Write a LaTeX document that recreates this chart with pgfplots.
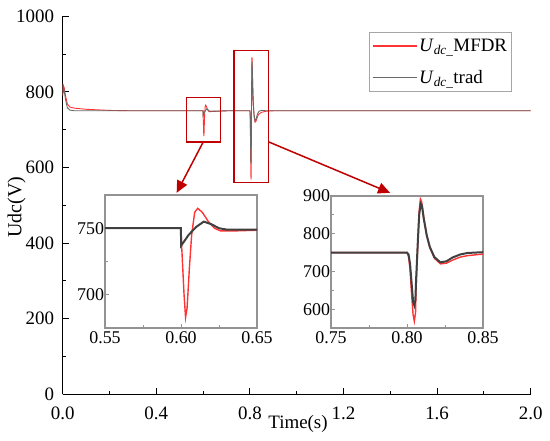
\documentclass[border=0pt]{standalone}
\usepackage{fontspec}
\setmainfont{Liberation Serif}
\usepackage{pgfplots}
\usepackage{pgfplotstable}
\pgfplotsset{compat=1.18}
\usetikzlibrary{arrows.meta}
\definecolor{mred}{HTML}{FF3333}
\definecolor{tgray}{HTML}{505050}
\definecolor{mgray}{HTML}{686868}
\definecolor{dred}{HTML}{C00000}

\pgfplotstableread{
t v
0 790
0.002 818
0.006 812
0.012 790
0.02 768
0.03 760
0.05 757
0.1 754
0.2 751
0.3 750
0.55 750
0.5999 750
0.6005 735
0.602 700
0.603 683
0.604 690
0.6055 720
0.607 745
0.609 762
0.611 765
0.614 762
0.618 755
0.622 750
0.626 748
0.635 748
0.65 748.5
0.7 750
0.8 750
0.801 740
0.802 705
0.803 640
0.804 585
0.8048 568
0.8056 590
0.806 660
0.807 760
0.808 860
0.8088 892
0.8096 885
0.811 845
0.813 795
0.815 763
0.818 735
0.822 720
0.826 722
0.83 730
0.835 738
0.84 742
0.85 746
0.87 749
0.9 750
2.0 750
}\redtab

\pgfplotstableread{
t v
0 790
0.002 815
0.006 805
0.012 780
0.02 758
0.03 752
0.05 750
0.5999 750
0.6001 737
0.602 740
0.605 745
0.61 751
0.615 755
0.62 753
0.625 750
0.63 749
0.65 749
0.7 750
0.8 750
0.801 745
0.802 720
0.803 670
0.804 620
0.8048 610
0.8055 625
0.806 680
0.807 770
0.808 850
0.809 880
0.8098 875
0.811 840
0.813 795
0.815 765
0.818 738
0.822 724
0.826 727
0.83 737
0.835 745
0.84 749
0.85 751
0.87 750
2.0 750
}\tradtab

\begin{document}
\begin{tikzpicture}
\useasboundingbox (0,0) rectangle (550bp,441bp);
\begin{axis}[
 at={(62.7bp,46.7bp)}, anchor=south west,
 scale only axis, width=468bp, height=378bp,
 xmin=0, xmax=2, ymin=0, ymax=1000,
 axis x line=bottom, axis y line=left,
 axis line style={-, line width=1bp, black},
 xtick={0,0.4,0.8,1.2,1.6,2.0},
 minor xtick={0.2,0.6,1.0,1.4,1.8},
 ytick={0,200,400,600,800,1000},
 minor ytick={100,300,500,700,900},
 tick align=inside,
 major tick length=6bp, minor tick length=3.5bp,
 tick style={black, line width=1bp},
 /pgf/number format/assume math mode=true,
 /pgf/number format/1000 sep={},
 x tick label style={/pgf/number format/fixed, /pgf/number format/fixed zerofill, /pgf/number format/precision=1, inner sep=0pt, yshift=-12bp},
 y tick label style={inner sep=0pt, xshift=-8.5bp},
 tick label style={font=\fontsize{19}{22}\selectfont},
 legend style={at={(0.959,0.959)}, anchor=north east, draw=gray!70, line width=0.8bp, fill=white,
   font=\fontsize{19}{22}\selectfont, row sep=13bp, inner xsep=2bp, inner ysep=5bp},
 legend cell align=left,
 legend image code/.code={\draw[#1, line width=1.3bp] (0bp,0bp) -- (44bp,0bp);},
]
\addplot[mred, line width=0.9bp] table[x=t,y=v] {\redtab};
\addlegendentry{\textit{U}\textsubscript{\textit{dc}\_}MFDR}
\addplot[mgray, line width=0.9bp] table[x=t,y=v] {\tradtab};
\addlegendentry{\textit{U}\textsubscript{\textit{dc}\_}trad}
\draw[dred, line width=1.5bp] (axis cs:0.530,667) rectangle (axis cs:0.675,785);
\draw[dred, line width=1.5bp] (axis cs:0.733,560) rectangle (axis cs:0.879,909);
\draw[dred, line width=1.5bp, -{Triangle[length=12bp,width=11bp]}] (axis cs:0.600,667) -- (axis cs:0.487,533);
\draw[dred, line width=1.5bp, -{Triangle[length=12bp,width=11bp]}] (axis cs:0.879,668) -- (axis cs:1.399,533);
\end{axis}

\begin{axis}[
 at={(105bp,113bp)}, anchor=south west,
 scale only axis, width=152bp, height=133bp,
 xmin=0.55, xmax=0.65, ymin=675, ymax=775,
 axis line style={gray!85, line width=1.2bp},
 xtick={0.55,0.60,0.65}, minor xtick={0.575,0.625},
 ytick={700,750}, minor ytick={725},
 xtick pos=bottom, ytick pos=left, tick align=inside,
 major tick length=4bp, minor tick length=2.5bp,
 tick style={gray!85, line width=1bp},
 /pgf/number format/assume math mode=true,
 x tick label style={/pgf/number format/fixed, /pgf/number format/fixed zerofill, /pgf/number format/precision=2},
 y tick label style={xshift=2.5bp},
 tick label style={font=\fontsize{18}{21}\selectfont},
]
\addplot[mred, line width=1.4bp] table[x=t,y=v] {\redtab};
\addplot[tgray!80!black, line width=2bp] table[x=t,y=v] {\tradtab};
\end{axis}

\begin{axis}[
 at={(331bp,113bp)}, anchor=south west,
 scale only axis, width=152bp, height=132bp,
 xmin=0.75, xmax=0.85, ymin=550, ymax=900,
 axis line style={gray!85, line width=1.2bp},
 xtick={0.75,0.80,0.85}, minor xtick={0.775,0.825},
 ytick={600,700,800,900}, minor ytick={650,750,850},
 xtick pos=bottom, ytick pos=left, tick align=inside,
 major tick length=4bp, minor tick length=2.5bp,
 tick style={gray!85, line width=1bp},
 /pgf/number format/assume math mode=true,
 x tick label style={/pgf/number format/fixed, /pgf/number format/fixed zerofill, /pgf/number format/precision=2},
 y tick label style={xshift=2.5bp},
 tick label style={font=\fontsize{18}{21}\selectfont},
]
\addplot[mred, line width=1.4bp] table[x=t,y=v] {\redtab};
\addplot[tgray!80!black, line width=2bp] table[x=t,y=v] {\tradtab};
\end{axis}

\node[font=\fontsize{19}{22}\selectfont] at (298bp,17bp) {Time(s)};
\node[rotate=90, font=\fontsize{20}{24}\selectfont] at (16.5bp,234bp) {Udc(V)};
\end{tikzpicture}
\end{document}
